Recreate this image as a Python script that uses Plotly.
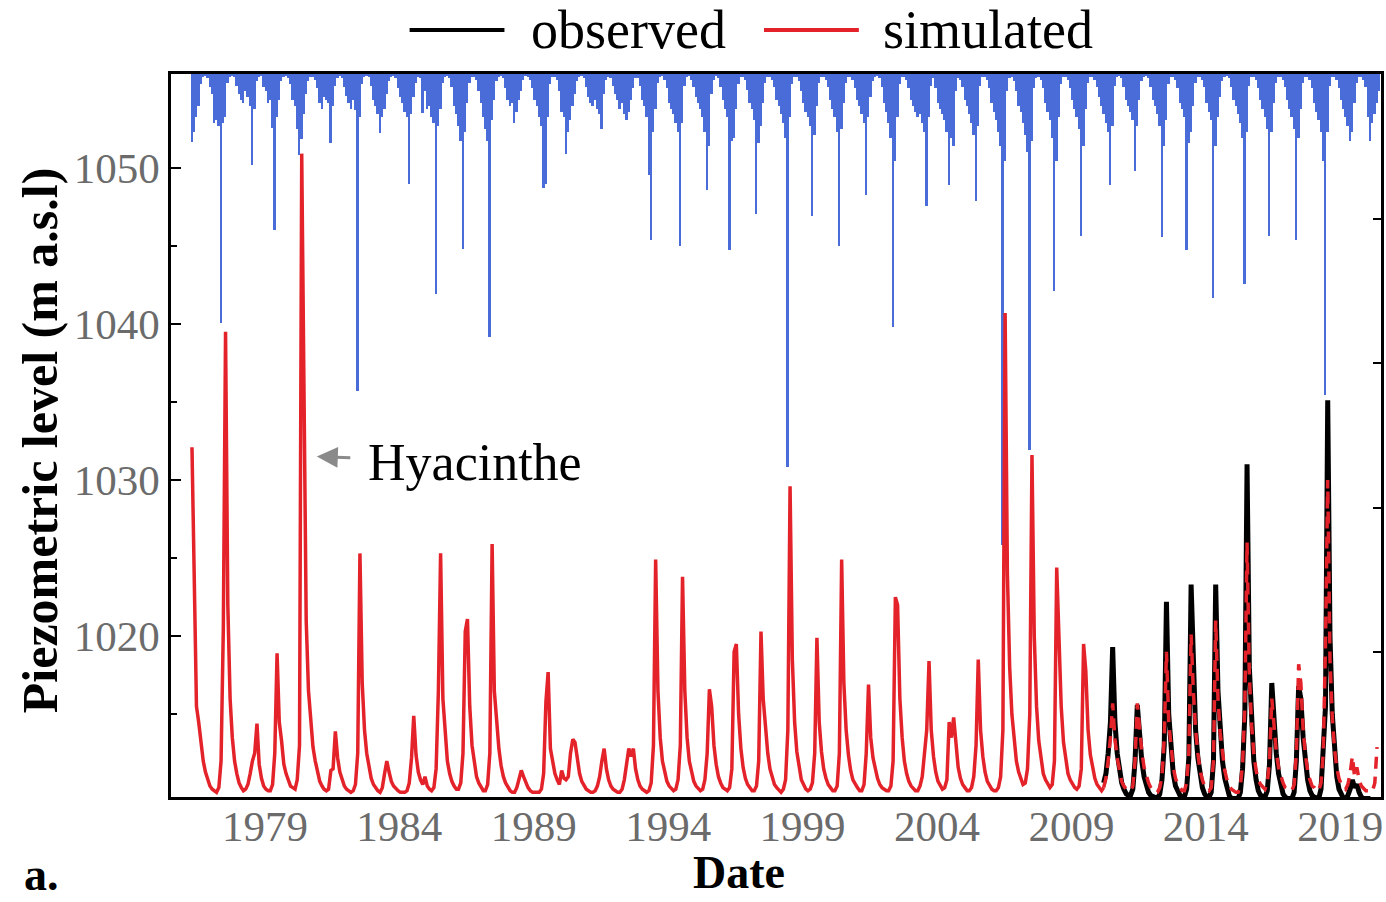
import pandas as pd
import plotly.graph_objects as go

# ---------------- data ----------------
sim_start = "1976-04"
sim_level = [
    1032.1, 1022.0, 1015.5, 1014.5, 1013.0, 1012.0, 1011.3, 1010.8, 1010.4,                      # 1976 Apr-Dec
    1010.2, 1010.1, 1010.0, 1010.3, 1012.0, 1020.5, 1039.5, 1022.0, 1016.0, 1013.5, 1012.0, 1011.2,  # 1977
    1010.6, 1010.3, 1010.1, 1010.2, 1010.5, 1011.2, 1012.0, 1012.5, 1014.4, 1011.8, 1010.9, 1010.4,  # 1978
    1010.2, 1010.1, 1010.1, 1010.5, 1012.5, 1018.9, 1014.5, 1013.3, 1011.8, 1011.2, 1010.8, 1010.4,  # 1979
    1010.3, 1010.2, 1010.8, 1013.0, 1050.9, 1032.0, 1021.0, 1016.5, 1014.5, 1012.9, 1012.0, 1011.3,  # 1980
    1010.7, 1010.4, 1010.2, 1010.1, 1010.2, 1011.4, 1011.5, 1013.9, 1012.2, 1011.3, 1010.8, 1010.4,  # 1981
    1010.2, 1010.1, 1010.0, 1010.1, 1010.5, 1012.5, 1025.3, 1017.0, 1014.0, 1012.5, 1011.5, 1010.9,  # 1982
    1010.5, 1010.3, 1010.1, 1010.0, 1010.3, 1011.2, 1012.0, 1011.3, 1010.7, 1010.4, 1010.2, 1010.1,  # 1983
    1010.0, 1010.0, 1010.0, 1010.1, 1010.6, 1012.2, 1014.9, 1012.4, 1011.3, 1010.8, 1010.5, 1011.0,  # 1984
    1010.4, 1010.2, 1010.1, 1010.3, 1011.5, 1016.5, 1025.3, 1016.0, 1013.5, 1012.0, 1011.2, 1010.7,  # 1985
    1010.4, 1010.2, 1010.2, 1010.6, 1012.5, 1020.3, 1021.1, 1015.5, 1013.0, 1011.8, 1011.0, 1010.6,  # 1986
    1010.3, 1010.1, 1010.1, 1010.5, 1012.5, 1025.9, 1016.5, 1014.5, 1012.8, 1011.7, 1011.0, 1010.6,  # 1987
    1010.3, 1010.1, 1010.0, 1010.0, 1010.3, 1010.8, 1011.4, 1011.0, 1010.6, 1010.3, 1010.1, 1010.0,  # 1988
    1010.0, 1010.0, 1010.0, 1010.2, 1011.2, 1015.8, 1017.7, 1012.8, 1012.0, 1011.2, 1010.8, 1010.5,  # 1989
    1011.4, 1010.9, 1010.8, 1011.0, 1012.5, 1013.4, 1013.2, 1012.0, 1011.2, 1010.7, 1010.4, 1010.2,  # 1990
    1010.1, 1010.0, 1010.0, 1010.1, 1010.4, 1011.0, 1012.0, 1012.8, 1011.5, 1010.8, 1010.4, 1010.2,  # 1991
    1010.1, 1010.0, 1010.0, 1010.2, 1010.8, 1012.0, 1012.8, 1012.3, 1012.8, 1011.5, 1010.8, 1010.4,  # 1992
    1010.2, 1010.1, 1010.0, 1010.1, 1010.6, 1013.0, 1024.9, 1016.5, 1013.5, 1012.0, 1011.2, 1010.7,  # 1993
    1010.4, 1010.2, 1010.1, 1010.2, 1010.8, 1013.0, 1023.8, 1016.5, 1013.5, 1012.0, 1011.2, 1010.7,  # 1994
    1010.4, 1010.2, 1010.1, 1010.2, 1010.8, 1012.5, 1016.6, 1015.5, 1013.0, 1011.8, 1011.0, 1010.6,  # 1995
    1010.3, 1010.2, 1010.1, 1010.3, 1011.5, 1019.0, 1019.5, 1015.0, 1012.8, 1011.6, 1010.9, 1010.5,  # 1996
    1010.3, 1010.1, 1010.1, 1010.4, 1012.0, 1020.3, 1016.0, 1014.0, 1012.5, 1011.5, 1010.9, 1010.5,  # 1997
    1010.3, 1010.1, 1010.0, 1010.2, 1010.8, 1014.0, 1029.6, 1018.5, 1014.5, 1012.6, 1011.5, 1010.8,  # 1998
    1010.5, 1010.2, 1010.1, 1010.2, 1010.6, 1012.5, 1019.9, 1014.5, 1012.6, 1011.5, 1010.9, 1010.5,  # 1999
    1010.3, 1010.1, 1010.1, 1010.4, 1012.5, 1024.9, 1017.0, 1014.0, 1012.4, 1011.4, 1010.8, 1010.5,  # 2000
    1010.3, 1010.1, 1010.1, 1010.5, 1012.5, 1016.9, 1013.5, 1012.2, 1011.4, 1010.9, 1010.5, 1010.3,  # 2001
    1010.2, 1010.1, 1010.1, 1010.4, 1012.0, 1022.5, 1022.0, 1016.0, 1013.5, 1012.0, 1011.2, 1010.7,  # 2002
    1010.4, 1010.2, 1010.1, 1010.1, 1010.4, 1011.0, 1012.5, 1014.0, 1018.4, 1014.0, 1012.3, 1011.3,  # 2003
    1010.7, 1010.4, 1010.2, 1010.3, 1010.8, 1014.5, 1013.5, 1014.8, 1012.8, 1011.6, 1010.9, 1010.5,  # 2004
    1010.3, 1010.1, 1010.1, 1010.3, 1011.0, 1013.0, 1018.5, 1014.0, 1012.3, 1011.3, 1010.7, 1010.4,  # 2005
    1010.2, 1010.1, 1010.1, 1010.3, 1011.0, 1014.0, 1040.7, 1024.0, 1018.0, 1015.0, 1013.2, 1012.0,  # 2006
    1011.3, 1010.8, 1010.5, 1010.6, 1011.5, 1015.0, 1031.6, 1020.0, 1015.5, 1013.3, 1012.0, 1011.2,  # 2007
    1010.8, 1010.5, 1010.3, 1010.5, 1012.0, 1024.4, 1020.0, 1015.5, 1013.2, 1012.0, 1011.2, 1010.8,  # 2008
    1010.5, 1010.3, 1010.2, 1010.4, 1011.5, 1019.5, 1017.8, 1014.0, 1012.4, 1011.5, 1010.9, 1010.5,  # 2009
    1010.3, 1010.1, 1010.3, 1010.9, 1012.0, 1013.5, 1015.7, 1013.4, 1012.2, 1011.3, 1010.7, 1010.4,  # 2010
    1010.2, 1010.1, 1010.1, 1010.4, 1012.0, 1015.7, 1014.0, 1012.6, 1011.6, 1011.0, 1010.6, 1010.3,  # 2011
    1010.1, 1010.0, 1010.0, 1010.3, 1011.0, 1013.5, 1019.0, 1014.5, 1012.8, 1011.6, 1010.9, 1010.5,  # 2012
    1010.3, 1010.1, 1010.1, 1010.6, 1012.5, 1020.1, 1016.5, 1014.0, 1012.5, 1011.4, 1010.8, 1010.4,  # 2013
    1010.2, 1010.1, 1010.3, 1012.0, 1021.0, 1016.0, 1013.8, 1012.4, 1011.4, 1010.8, 1010.4, 1010.2,  # 2014
    1010.1, 1010.0, 1010.0, 1010.4, 1011.8, 1015.5, 1026.0, 1017.5, 1014.3, 1012.5, 1011.4, 1010.8,  # 2015
    1010.5, 1010.3, 1010.2, 1010.6, 1012.0, 1016.0, 1014.0, 1012.6, 1011.6, 1011.0, 1010.6, 1010.3,  # 2016
    1010.2, 1010.1, 1010.1, 1010.5, 1012.5, 1018.2, 1017.0, 1014.0, 1012.4, 1011.4, 1010.8, 1010.4,  # 2017
    1010.3, 1010.1, 1010.1, 1010.6, 1012.5, 1019.5, 1030.0, 1018.5, 1014.8, 1012.8, 1011.6, 1010.9,  # 2018
    1010.5, 1010.3, 1010.2, 1010.5, 1011.2, 1012.3, 1011.0, 1011.6, 1010.8, 1010.4, 1010.2, 1010.1,  # 2019
    1010.1, 1010.0, 1010.1, 1010.6, 1012.9,                                                      # 2020 Jan-May
]

obs_start = "2010-03"
obs_level = [
    1010.6, 1011.2, 1012.5, 1014.5, 1019.3, 1014.5, 1012.5, 1011.3, 1010.6, 1010.2,              # 2010 Mar-Dec
    1009.9, 1009.8, 1009.8, 1010.2, 1012.0, 1015.6, 1013.6, 1012.0, 1011.0, 1010.4, 1010.0, 1009.8,  # 2011
    1009.7, 1009.6, 1009.6, 1009.9, 1010.8, 1013.0, 1022.2, 1015.0, 1012.6, 1011.2, 1010.4, 1010.0,  # 2012
    1009.8, 1009.7, 1009.7, 1010.2, 1012.2, 1023.3, 1017.0, 1014.0, 1012.2, 1011.0, 1010.3, 1009.9,  # 2013
    1009.7, 1009.7, 1010.0, 1012.0, 1023.3, 1016.5, 1013.8, 1012.0, 1010.9, 1010.2, 1009.8, 1009.6,  # 2014
    1009.6, 1009.6, 1009.6, 1010.0, 1011.5, 1015.0, 1031.0, 1018.0, 1014.0, 1012.0, 1010.8, 1010.1,  # 2015
    1009.8, 1009.7, 1009.7, 1010.1, 1011.8, 1017.0, 1014.3, 1012.5, 1011.2, 1010.4, 1009.9, 1009.7,  # 2016
    1009.6, 1009.6, 1009.6, 1010.0, 1012.0, 1016.8, 1016.0, 1013.5, 1011.8, 1010.8, 1010.1, 1009.8,  # 2017
    1009.7, 1009.6, 1009.6, 1010.2, 1012.5, 1015.5, 1035.1, 1020.0, 1015.0, 1012.5, 1011.0, 1010.2,  # 2018
    1009.8, 1009.6, 1009.6, 1009.8, 1010.2, 1010.8, 1010.3, 1010.5, 1010.0, 1009.7, 1009.6, 1009.6,  # 2019
    1009.6, 1009.6,                                                                              # 2020 Jan-Feb
]

rain_start = "1976-04"
rain_mm = [
    47, 40, 30, 22, 7, 2, 1, 3, 9,                       # 1976 Apr-Dec
    14, 34, 32, 36, 172, 34, 30, 6, 2, 1, 2, 8,          # 1977
    14, 18, 20, 12, 16, 22, 63, 24, 5, 2, 1, 9,          # 1978
    12, 20, 18, 37, 108, 30, 18, 5, 2, 1, 3, 7,          # 1979
    18, 22, 38, 56, 45, 28, 14, 5, 2, 2, 4, 10,          # 1980
    20, 24, 16, 18, 20, 48, 22, 8, 3, 1, 3, 9,           # 1981
    15, 20, 24, 18, 25, 219, 30, 7, 2, 1, 2, 8,          # 1982
    18, 22, 28, 41, 30, 24, 14, 5, 2, 1, 3, 10,          # 1983
    16, 20, 26, 30, 76, 28, 16, 6, 2, 3, 27, 12,         # 1984
    24, 22, 30, 34, 152, 36, 24, 6, 2, 1, 3, 9,          # 1985
    22, 28, 36, 46, 121, 40, 20, 6, 2, 2, 4, 12,         # 1986
    20, 30, 38, 46, 182, 32, 18, 5, 2, 1, 3, 10,         # 1987
    18, 22, 20, 34, 26, 18, 12, 4, 1, 2, 4, 10,          # 1988
    18, 22, 30, 36, 79, 76, 30, 7, 2, 2, 4, 12,          # 1989
    26, 30, 55, 40, 32, 22, 14, 5, 2, 1, 3, 9,           # 1990
    16, 20, 22, 18, 24, 28, 38, 14, 4, 2, 3, 8,          # 1991
    14, 18, 24, 20, 28, 32, 26, 18, 10, 3, 3, 8,         # 1992
    18, 22, 30, 70, 115, 40, 24, 6, 2, 1, 4, 10,         # 1993
    20, 24, 28, 34, 40, 119, 34, 8, 2, 1, 4, 9,          # 1994
    16, 20, 24, 30, 40, 80, 50, 14, 4, 1, 3, 9,          # 1995
    18, 24, 30, 122, 46, 44, 24, 7, 2, 2, 4, 11,         # 1996
    20, 24, 32, 97, 48, 36, 20, 6, 2, 2, 4, 9,           # 1997
    18, 22, 28, 34, 44, 272, 30, 7, 2, 2, 5, 12,         # 1998
    20, 26, 30, 36, 98, 42, 22, 6, 2, 2, 4, 9,           # 1999
    18, 24, 30, 40, 119, 38, 20, 6, 2, 2, 4, 10,         # 2000
    18, 22, 28, 34, 84, 30, 16, 5, 2, 1, 3, 9,           # 2001
    20, 26, 34, 44, 175, 60, 30, 7, 2, 2, 4, 10,         # 2002
    18, 22, 26, 30, 28, 34, 40, 91, 30, 8, 3, 10,        # 2003
    20, 24, 28, 32, 40, 77, 44, 50, 12, 3, 4, 9,         # 2004
    18, 22, 28, 34, 42, 88, 36, 8, 2, 2, 4, 10,          # 2005
    20, 26, 32, 40, 50, 326, 60, 12, 3, 2, 5, 12,        # 2006
    22, 26, 34, 42, 54, 260, 46, 10, 3, 2, 4, 10,        # 2007
    20, 26, 32, 44, 150, 60, 30, 7, 2, 2, 4, 10,         # 2008
    18, 24, 30, 38, 112, 50, 24, 6, 2, 2, 4, 9,          # 2009
    16, 22, 28, 34, 40, 77, 36, 8, 2, 1, 3, 9,           # 2010
    18, 22, 26, 32, 67, 36, 18, 5, 2, 1, 3, 9,           # 2011
    18, 22, 28, 36, 113, 50, 32, 7, 2, 2, 4, 10,         # 2012
    20, 24, 30, 122, 48, 40, 22, 6, 2, 2, 4, 9,          # 2013
    20, 26, 32, 155, 50, 30, 16, 5, 2, 1, 3, 9,          # 2014
    18, 22, 28, 34, 44, 145, 40, 8, 2, 2, 4, 10,         # 2015
    18, 24, 30, 38, 112, 40, 20, 6, 2, 2, 4, 9,          # 2016
    18, 24, 30, 38, 115, 44, 24, 6, 2, 2, 4, 10,         # 2017
    20, 26, 32, 40, 60, 222, 40, 8, 2, 2, 4, 10,         # 2018
    18, 24, 30, 36, 46, 40, 20, 6, 2, 2, 4, 9,           # 2019
    30, 46, 34, 28, 20, 12,                              # 2020 Jan-Jun
]

year_ticks = [1979, 1984, 1989, 1994, 1999, 2004, 2009, 2014, 2019]
level_ticks = [1020, 1030, 1040, 1050]
level_minor = [1015, 1025, 1035, 1045]
rain_ticks = [100, 200, 300, 400]

# ---------------- helpers ----------------
def month_dates(start, n):
    return pd.date_range(start=start, periods=n, freq="MS") + pd.Timedelta(days=14)

sim_dates = month_dates(sim_start, len(sim_level))
obs_dates = month_dates(obs_start, len(obs_level))
rain_dates = month_dates(rain_start, len(rain_mm))

split = pd.Timestamp(obs_start)
sim_s = pd.Series(sim_level, index=sim_dates)
sim_solid = sim_s[sim_s.index <= split + pd.Timedelta(days=14)]
sim_dash = sim_s[sim_s.index >= split]

RED = "#e3222a"
BLUE = "#4a6cd8"
FONT = "Liberation Serif"
GRAY = "#6b6b6b"

L, R, T, B = 171, 3, 74, 105
W, H = 1386, 902
PW, PH = W - L - R, H - T - B

def px(x):
    return (x - L) / PW

def py(y):
    return (H - B - y) / PH

fig = go.Figure()

fig.add_trace(go.Bar(
    x=rain_dates, y=rain_mm, base=0, yaxis="y",
    marker=dict(color=BLUE, line=dict(width=0)),
    width=25 * 24 * 3600 * 1000, name="rain",
))

fig.add_trace(go.Scatter(
    x=obs_dates, y=obs_level, yaxis="y2", mode="lines",
    line=dict(color="black", width=5), name="observed",
))
fig.add_trace(go.Scatter(
    x=sim_solid.index, y=sim_solid.values, yaxis="y2", mode="lines",
    line=dict(color=RED, width=3.5), name="simulated",
))
fig.add_trace(go.Scatter(
    x=sim_dash.index, y=sim_dash.values, yaxis="y2", mode="lines",
    line=dict(color=RED, width=3.5, dash="12px,8px"), name="simulated (obs period)",
))

fig.update_layout(
    width=W, height=H,
    margin=dict(l=L, r=R, t=T, b=B),
    plot_bgcolor="white", paper_bgcolor="white",
    showlegend=False, bargap=0,
    font=dict(family=FONT, color="black"),
    xaxis=dict(
        type="date", range=["1975-07-05", "2020-07-08"],
        tickvals=[f"{y}-01-01" for y in year_ticks],
        ticktext=[str(y) for y in year_ticks],
        ticks="", showgrid=False, zeroline=False,
        showline=True, mirror=True, linecolor="black", linewidth=2.5,
        tickfont=dict(family=FONT, size=43, color=GRAY),
        ticklabelstandoff=-10,
    ),
    yaxis=dict(
        side="right", range=[500, 0], tickvals=rain_ticks,
        ticks="inside", ticklen=8, tickwidth=2, tickcolor="black",
        showticklabels=False, showgrid=False, zeroline=False,
        showline=True, mirror=True, linecolor="black", linewidth=2.5,
    ),
    yaxis2=dict(
        overlaying="y", side="left", anchor="x",
        range=[1009.7, 1056.0], tickvals=level_ticks,
        ticks="inside", ticklen=10, tickwidth=2, tickcolor="black",
        minor=dict(tickvals=level_minor, ticks="inside", ticklen=6, tickwidth=2, tickcolor="black"),
        showgrid=False, zeroline=False,
        showline=True, linecolor="black", linewidth=2.5,
        tickfont=dict(family=FONT, size=43, color=GRAY),
    ),
)

# Hyacinthe annotation (short arrow pointing at the 1980 peak)
fig.add_annotation(
    x="1980-12-06", y=1031.5, xref="x", yref="y2",
    text="Hyacinthe", showarrow=True, arrowhead=2, arrowsize=1.4,
    arrowwidth=3, arrowcolor="#8a8a8a", ax=158, ay=6, startstandoff=16,
    standoff=0, font=dict(family=FONT, size=52, color="black"),
)

# axis titles and panel label
fig.add_annotation(
    x=px(40), y=py(440), xref="paper", yref="paper", showarrow=False,
    text="<b>Piezometric level (m a.s.l)</b>", textangle=-90,
    font=dict(family=FONT, size=50, color="black"),
    xanchor="center", yanchor="middle",
)
fig.add_annotation(
    x=px(740), y=py(872), xref="paper", yref="paper", showarrow=False,
    text="<b>Date</b>", font=dict(family=FONT, size=46, color="black"),
    xanchor="center", yanchor="middle",
)
fig.add_annotation(
    x=px(22), y=py(874), xref="paper", yref="paper", showarrow=False,
    text="<b>a.</b>", font=dict(family=FONT, size=46, color="black"),
    xanchor="left", yanchor="middle",
)

# legend drawn on top
legend_items = [("observed", "black", 410, 505, 530), ("simulated", RED, 765, 860, 882)]
for label, color, x0, x1, tx in legend_items:
    fig.add_shape(type="line", xref="paper", yref="paper",
                  x0=px(x0), x1=px(x1), y0=py(30), y1=py(30),
                  line=dict(color=color, width=4))
    fig.add_annotation(x=px(tx), y=py(30), xref="paper", yref="paper",
                       showarrow=False, text=label, xanchor="left", yanchor="middle",
                       font=dict(family=FONT, size=54, color="black"))

fig.write_html("out.html")
